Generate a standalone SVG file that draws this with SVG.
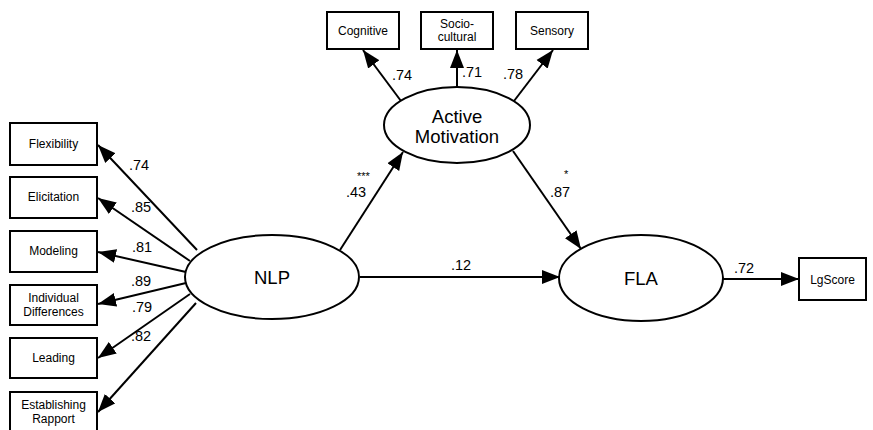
<svg xmlns="http://www.w3.org/2000/svg" width="873" height="430" viewBox="0 0 873 430">
  <style>
    .box { fill: #fff; stroke: #000; stroke-width: 2; }
    .ell { fill: #fff; stroke: #000; stroke-width: 2; }
    .edge { stroke: #000; stroke-width: 2; fill: none; marker-end: url(#head); }
    .bl { font-family: "Liberation Sans", Arial, sans-serif; font-size: 12px; fill: #000; text-anchor: middle; }
    .el { font-family: "Liberation Sans", Arial, sans-serif; font-size: 18.5px; fill: #000; text-anchor: middle; }
    .wl { font-family: "Liberation Sans", Arial, sans-serif; font-size: 14.5px; fill: #000; }
    .st { font-family: "Liberation Sans", Arial, sans-serif; font-size: 11px; fill: #000; }
  </style>
  <defs>
    <marker id="head" markerUnits="userSpaceOnUse" markerWidth="20" markerHeight="15" refX="18" refY="7.5" orient="auto">
      <path d="M0,0.5 L18,7.5 L0,14.5 Z" fill="#000"/>
    </marker>
  </defs>
  <rect width="873" height="430" fill="#fff"/>

  <g id="connectors">
    <line class="edge" x1="197" y1="250" x2="98" y2="145"/>
    <line class="edge" x1="190" y1="261" x2="98" y2="198"/>
    <line class="edge" x1="186" y1="272" x2="98" y2="252"/>
    <line class="edge" x1="186" y1="283" x2="98" y2="304"/>
    <line class="edge" x1="190" y1="294" x2="98" y2="358"/>
    <line class="edge" x1="196" y1="303" x2="98" y2="412"/>
    <line class="edge" x1="340" y1="250" x2="403" y2="152"/>
    <line class="edge" x1="513" y1="151" x2="581" y2="249"/>
    <line class="edge" x1="360" y1="277" x2="560" y2="277"/>
    <line class="edge" x1="723" y1="279" x2="799" y2="279"/>
    <line class="edge" x1="401" y1="101" x2="363" y2="50"/>
    <line class="edge" x1="457" y1="87" x2="457" y2="50"/>
    <line class="edge" x1="514" y1="101" x2="553" y2="50"/>

    <text class="wl" x="129" y="170">.74</text>
    <text class="wl" x="131" y="212">.85</text>
    <text class="wl" x="132" y="252">.81</text>
    <text class="wl" x="131" y="286">.89</text>
    <text class="wl" x="132" y="312">.79</text>
    <text class="wl" x="131" y="341">.82</text>
    <text class="wl" x="346" y="197">.43</text>
    <text class="st" x="357" y="180">***</text>
    <text class="wl" x="550" y="197">.87</text>
    <text class="st" x="564" y="178">*</text>
    <text class="wl" x="451" y="270">.12</text>
    <text class="wl" x="734" y="273">.72</text>
    <text class="wl" x="392" y="80">.74</text>
    <text class="wl" x="462" y="77">.71</text>
    <text class="wl" x="503" y="79">.78</text>
  </g>

  <g id="flexibility"><rect class="box" x="10" y="123" width="87" height="42"/><text class="bl" x="53.5" y="148">Flexibility</text></g>
  <g id="elicitation"><rect class="box" x="10" y="177" width="87" height="41"/><text class="bl" x="53.5" y="201">Elicitation</text></g>
  <g id="modeling"><rect class="box" x="10" y="231" width="87" height="41"/><text class="bl" x="53.5" y="255">Modeling</text></g>
  <g id="individual-differences"><rect class="box" x="10" y="285" width="87" height="40"/><text class="bl" x="53.5" y="302">Individual</text><text class="bl" x="53.5" y="316">Differences</text></g>
  <g id="leading"><rect class="box" x="10" y="338" width="87" height="40"/><text class="bl" x="53.5" y="362">Leading</text></g>
  <g id="establishing-rapport"><rect class="box" x="10" y="392" width="87" height="40"/><text class="bl" x="53.5" y="409">Establishing</text><text class="bl" x="53.5" y="423">Rapport</text></g>

  <g id="cognitive"><rect class="box" x="327" y="12" width="72" height="37"/><text class="bl" x="363" y="35">Cognitive</text></g>
  <g id="socio-cultural"><rect class="box" x="421" y="12" width="72" height="37"/><text class="bl" x="457" y="28">Socio-</text><text class="bl" x="457" y="41">cultural</text></g>
  <g id="sensory"><rect class="box" x="516" y="12" width="72" height="37"/><text class="bl" x="552" y="35">Sensory</text></g>

  <g id="nlp"><ellipse class="ell" cx="272" cy="277" rx="87" ry="42"/><text class="el" x="272" y="284">NLP</text></g>
  <g id="active-motivation"><ellipse class="ell" cx="457" cy="125" rx="73" ry="38"/><text class="el" x="457" y="123">Active</text><text class="el" x="457" y="143">Motivation</text></g>
  <g id="fla"><ellipse class="ell" cx="641" cy="278" rx="82" ry="43"/><text class="el" x="641" y="285">FLA</text></g>
  <g id="lgscore"><rect class="box" x="799" y="258" width="67" height="42"/><text class="bl" x="832.5" y="284">LgScore</text></g>
</svg>
